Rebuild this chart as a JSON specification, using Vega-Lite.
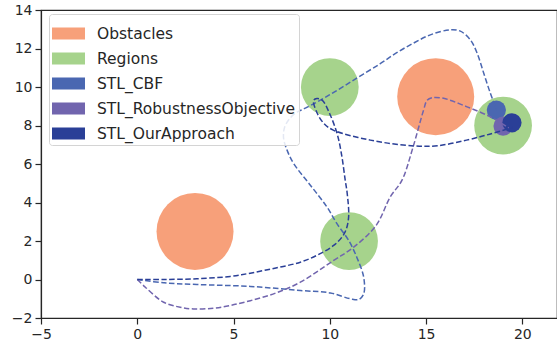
{
  "$schema": "https://vega.github.io/schema/vega-lite/v6.json",
  "width": 516,
  "height": 308,
  "autosize": {"type": "none"},
  "padding": {"left": 41, "top": 10, "right": 0, "bottom": 28},
  "config": {
    "view": {"stroke": "#262626", "strokeWidth": 1.2},
    "font": "DejaVu Sans",
    "axis": {
      "grid": false,
      "domainColor": "#262626",
      "domainWidth": 1.2,
      "tickColor": "#262626",
      "tickWidth": 1.2,
      "tickSize": 6,
      "labelFont": "DejaVu Sans",
      "labelFontSize": 14,
      "labelColor": "#262626",
      "labelPadding": 3,
      "labelOverlap": false,
      "labelBound": false,
      "labelFlush": false,
      "title": null
    },
    "axisY": {"labelOverlap": false, "labelSeparation": 0},
    "legend": {
      "orient": "none",
      "legendX": 8,
      "legendY": 4,
      "padding": 3,
      "fillColor": "rgba(255,255,255,0.85)",
      "strokeColor": "#d4d4d4",
      "cornerRadius": 3,
      "labelFont": "DejaVu Sans",
      "labelFontSize": 15.5,
      "labelColor": "#262626",
      "labelOffset": 12,
      "labelLimit": 0,
      "symbolType": "M-1,-0.3636H1V0.3636H-1Z",
      "symbolSize": 1089,
      "symbolStrokeWidth": 0,
      "symbolOpacity": 1,
      "rowPadding": -1.7
    }
  },
  "datasets": {
    "circles": [
      {"series": "Obstacles", "x": 3, "y": 2.5, "r": 2},
      {"series": "Obstacles", "x": 15.5, "y": 9.5, "r": 2},
      {"series": "Regions", "x": 10, "y": 10, "r": 1.5},
      {"series": "Regions", "x": 11, "y": 2, "r": 1.5},
      {"series": "Regions", "x": 19, "y": 8, "r": 1.5},
      {"series": "STL_CBF", "x": 18.65, "y": 8.8, "r": 0.5},
      {"series": "STL_RobustnessObjective", "x": 19.0, "y": 7.97, "r": 0.5},
      {"series": "STL_OurApproach", "x": 19.46, "y": 8.14, "r": 0.5}
    ],
    "paths": [
      {"series": "STL_CBF", "i": 0, "x": 0, "y": 0},
      {"series": "STL_CBF", "i": 1, "x": 1.37, "y": -0.17},
      {"series": "STL_CBF", "i": 2, "x": 3.1, "y": -0.26},
      {"series": "STL_CBF", "i": 3, "x": 5.87, "y": -0.36},
      {"series": "STL_CBF", "i": 4, "x": 8.47, "y": -0.57},
      {"series": "STL_CBF", "i": 5, "x": 10.03, "y": -0.7},
      {"series": "STL_CBF", "i": 6, "x": 11.06, "y": -1.0},
      {"series": "STL_CBF", "i": 7, "x": 11.5, "y": -1.04},
      {"series": "STL_CBF", "i": 8, "x": 11.76, "y": -0.75},
      {"series": "STL_CBF", "i": 9, "x": 11.76, "y": 0.12},
      {"series": "STL_CBF", "i": 10, "x": 11.4, "y": 1.16},
      {"series": "STL_CBF", "i": 11, "x": 10.98, "y": 2.03},
      {"series": "STL_CBF", "i": 12, "x": 10.37, "y": 2.9},
      {"series": "STL_CBF", "i": 13, "x": 9.85, "y": 3.77},
      {"series": "STL_CBF", "i": 14, "x": 8.99, "y": 4.9},
      {"series": "STL_CBF", "i": 15, "x": 8.12, "y": 6.03},
      {"series": "STL_CBF", "i": 16, "x": 7.78, "y": 6.72},
      {"series": "STL_CBF", "i": 17, "x": 7.6, "y": 7.33},
      {"series": "STL_CBF", "i": 18, "x": 7.65, "y": 7.9},
      {"series": "STL_CBF", "i": 19, "x": 7.95, "y": 8.4},
      {"series": "STL_CBF", "i": 20, "x": 8.3, "y": 8.7},
      {"series": "STL_CBF", "i": 21, "x": 8.73, "y": 8.9},
      {"series": "STL_CBF", "i": 22, "x": 10.0, "y": 9.6},
      {"series": "STL_CBF", "i": 23, "x": 11.3, "y": 10.4},
      {"series": "STL_CBF", "i": 24, "x": 12.6, "y": 11.2},
      {"series": "STL_CBF", "i": 25, "x": 13.5, "y": 11.8},
      {"series": "STL_CBF", "i": 26, "x": 14.35, "y": 12.28},
      {"series": "STL_CBF", "i": 27, "x": 15.22, "y": 12.71},
      {"series": "STL_CBF", "i": 28, "x": 16.26, "y": 12.97},
      {"series": "STL_CBF", "i": 29, "x": 16.78, "y": 12.9},
      {"series": "STL_CBF", "i": 30, "x": 17.3, "y": 12.45},
      {"series": "STL_CBF", "i": 31, "x": 17.65, "y": 11.76},
      {"series": "STL_CBF", "i": 32, "x": 18.0, "y": 10.7},
      {"series": "STL_CBF", "i": 33, "x": 18.34, "y": 9.67},
      {"series": "STL_CBF", "i": 34, "x": 18.6, "y": 8.97},
      {"series": "STL_CBF", "i": 35, "x": 18.65, "y": 8.8},
      {"series": "STL_RobustnessObjective", "i": 0, "x": 0, "y": 0},
      {"series": "STL_RobustnessObjective", "i": 1, "x": 0.42, "y": -0.4},
      {"series": "STL_RobustnessObjective", "i": 2, "x": 1.37, "y": -1.18},
      {"series": "STL_RobustnessObjective", "i": 3, "x": 2.23, "y": -1.44},
      {"series": "STL_RobustnessObjective", "i": 4, "x": 2.92, "y": -1.53},
      {"series": "STL_RobustnessObjective", "i": 5, "x": 3.96, "y": -1.49},
      {"series": "STL_RobustnessObjective", "i": 6, "x": 4.83, "y": -1.35},
      {"series": "STL_RobustnessObjective", "i": 7, "x": 5.87, "y": -1.1},
      {"series": "STL_RobustnessObjective", "i": 8, "x": 7.2, "y": -0.7},
      {"series": "STL_RobustnessObjective", "i": 9, "x": 8.47, "y": -0.14},
      {"series": "STL_RobustnessObjective", "i": 10, "x": 10.2, "y": 0.99},
      {"series": "STL_RobustnessObjective", "i": 11, "x": 11.24, "y": 1.68},
      {"series": "STL_RobustnessObjective", "i": 12, "x": 12.4, "y": 2.8},
      {"series": "STL_RobustnessObjective", "i": 13, "x": 13.14, "y": 4.29},
      {"series": "STL_RobustnessObjective", "i": 14, "x": 13.75, "y": 5.16},
      {"series": "STL_RobustnessObjective", "i": 15, "x": 14.3, "y": 6.8},
      {"series": "STL_RobustnessObjective", "i": 16, "x": 14.87, "y": 8.8},
      {"series": "STL_RobustnessObjective", "i": 17, "x": 15.05, "y": 9.3},
      {"series": "STL_RobustnessObjective", "i": 18, "x": 15.31, "y": 9.44},
      {"series": "STL_RobustnessObjective", "i": 19, "x": 15.91, "y": 9.41},
      {"series": "STL_RobustnessObjective", "i": 20, "x": 17.13, "y": 8.97},
      {"series": "STL_RobustnessObjective", "i": 21, "x": 18.34, "y": 8.45},
      {"series": "STL_RobustnessObjective", "i": 22, "x": 19.29, "y": 7.88},
      {"series": "STL_OurApproach", "i": 0, "x": 0, "y": 0},
      {"series": "STL_OurApproach", "i": 1, "x": 1.37, "y": 0.0},
      {"series": "STL_OurApproach", "i": 2, "x": 3.1, "y": 0.04},
      {"series": "STL_OurApproach", "i": 3, "x": 4.83, "y": 0.16},
      {"series": "STL_OurApproach", "i": 4, "x": 5.87, "y": 0.33},
      {"series": "STL_OurApproach", "i": 5, "x": 7.2, "y": 0.6},
      {"series": "STL_OurApproach", "i": 6, "x": 8.47, "y": 0.9},
      {"series": "STL_OurApproach", "i": 7, "x": 9.5, "y": 1.34},
      {"series": "STL_OurApproach", "i": 8, "x": 10.2, "y": 1.77},
      {"series": "STL_OurApproach", "i": 9, "x": 10.63, "y": 2.2},
      {"series": "STL_OurApproach", "i": 10, "x": 10.85, "y": 2.6},
      {"series": "STL_OurApproach", "i": 11, "x": 10.98, "y": 3.3},
      {"series": "STL_OurApproach", "i": 12, "x": 10.9, "y": 4.5},
      {"series": "STL_OurApproach", "i": 13, "x": 10.8, "y": 5.16},
      {"series": "STL_OurApproach", "i": 14, "x": 10.63, "y": 6.37},
      {"series": "STL_OurApproach", "i": 15, "x": 10.4, "y": 7.5},
      {"series": "STL_OurApproach", "i": 16, "x": 10.0, "y": 8.6},
      {"series": "STL_OurApproach", "i": 17, "x": 9.6, "y": 9.32},
      {"series": "STL_OurApproach", "i": 18, "x": 9.33, "y": 9.4},
      {"series": "STL_OurApproach", "i": 19, "x": 9.16, "y": 9.3},
      {"series": "STL_OurApproach", "i": 20, "x": 9.34, "y": 8.65},
      {"series": "STL_OurApproach", "i": 21, "x": 9.7, "y": 8.1},
      {"series": "STL_OurApproach", "i": 22, "x": 10.18, "y": 7.76},
      {"series": "STL_OurApproach", "i": 23, "x": 12.1, "y": 7.24},
      {"series": "STL_OurApproach", "i": 24, "x": 14.35, "y": 6.94},
      {"series": "STL_OurApproach", "i": 25, "x": 15.6, "y": 6.95},
      {"series": "STL_OurApproach", "i": 26, "x": 17.1, "y": 7.24},
      {"series": "STL_OurApproach", "i": 27, "x": 18.3, "y": 7.55},
      {"series": "STL_OurApproach", "i": 28, "x": 19.5, "y": 7.9}
    ]
  },
  "encoding": {
    "x": {"field": "x", "type": "quantitative", "scale": {"domain": [-5, 21.8], "nice": false, "zero": false}, "axis": {"values": [-5, 0, 5, 10, 15, 20], "labelOverlap": false}},
    "y": {"field": "y", "type": "quantitative", "scale": {"domain": [-2, 14], "nice": false, "zero": false}, "axis": {"values": [-2, 0, 2, 4, 6, 8, 10, 12, 14], "labelOverlap": false, "labelSeparation": 0}}
  },
  "layer": [
    {
      "data": {"name": "circles"},
      "mark": {"type": "point", "shape": "circle", "filled": true, "opacity": 1, "strokeWidth": 0},
      "encoding": {
        "size": {"field": "r", "type": "quantitative", "scale": {"type": "pow", "exponent": 2, "domain": [0, 2], "range": [0, 5929]}, "legend": null},
        "color": {"field": "series", "type": "nominal", "scale": {"domain": ["Obstacles", "Regions", "STL_CBF", "STL_RobustnessObjective", "STL_OurApproach"], "range": ["#f7a07a", "#a6d38c", "#4a67b1", "#7165ae", "#2a3f97"]}, "legend": {"title": null}}
      }
    },
    {
      "data": {"name": "paths"},
      "mark": {"type": "line", "strokeDash": [5.5, 2.5], "strokeWidth": 1.5, "interpolate": "catmull-rom"},
      "encoding": {
        "color": {"field": "series", "type": "nominal"},
        "detail": {"field": "series"},
        "order": {"field": "i", "type": "quantitative"}
      }
    }
  ]
}
